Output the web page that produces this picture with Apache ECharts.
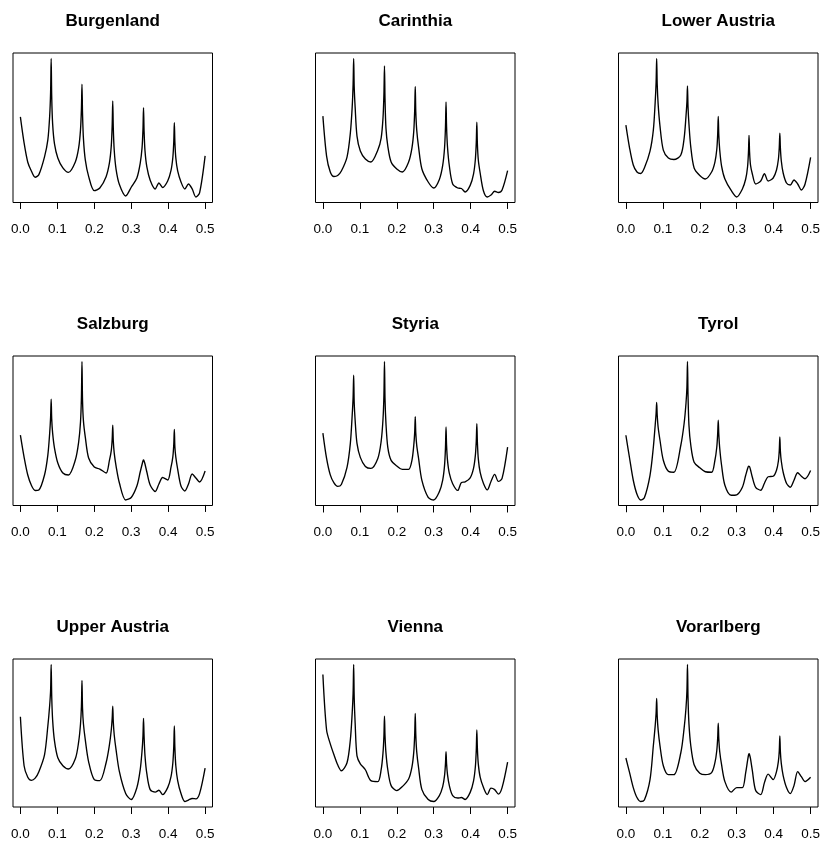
<!DOCTYPE html>
<html>
<head>
<meta charset="utf-8">
<script src="https://cdn.jsdelivr.net/npm/echarts@6/dist/echarts.min.js"></script>
<style>html,body{margin:0;padding:0;background:#fff;}#c{width:824px;height:841px;}</style>
</head>
<body>
<div id="c"></div>
<script>
// Shared frequency grid (cycles per month)
const freq = [0, 0.01, 0.02, 0.03, 0.04, 0.05,
  0.0653, 0.0743, 0.0793, 0.0818, 0.0833, 0.0848, 0.0873, 0.0923, 0.1013,
  0.115, 0.13,
  0.1487, 0.1577, 0.1627, 0.1652, 0.1667, 0.1682, 0.1707, 0.1757, 0.1847,
  0.2, 0.215,
  0.232, 0.241, 0.246, 0.2485, 0.25, 0.2515, 0.254, 0.259, 0.268,
  0.285, 0.3,
  0.3153, 0.3243, 0.3293, 0.3318, 0.3333, 0.3348, 0.3373, 0.3423, 0.3513,
  0.365, 0.375, 0.385,
  0.3987, 0.4077, 0.4127, 0.4152, 0.4167, 0.4182, 0.4207, 0.4257, 0.4347,
  0.445, 0.455, 0.465, 0.475, 0.485, 0.5];

const regions = ["Burgenland", "Carinthia", "Lower Austria", "Salzburg", "Styria", "Tyrol", "Upper Austria", "Vienna", "Vorarlberg"];

const tickValues = [0, 0.1, 0.2, 0.3, 0.4, 0.5];

// Spectrum values (arbitrary units)
const burgenland = [85, 59, 39.7, 30.7, 24.7, 27.3,
  45, 62, 86, 110, 143.3, 105, 78, 58, 44,
  34, 29.5,
  40, 54, 72, 93, 117.7, 88.6, 63, 42, 25.6,
  11.3, 14,
  25.3, 39, 56, 77, 101, 74, 51.6, 32.6, 17.4,
  6, 14.7,
  24, 38.6, 54, 72.4, 94.3, 71, 51, 35, 21.8,
  13, 19, 14.5,
  21, 31.5, 44.7, 60.5, 79.3, 60, 44, 31, 20,
  13, 18, 13, 5, 9, 46];

const carinthia = [86, 46, 30, 25.5, 26.5, 31,
  45, 69, 95, 118, 143.7, 115, 95, 66, 51,
  43, 40,
  52, 64, 84, 108, 136.3, 103, 74, 56, 40,
  33, 30,
  40, 54, 71, 92, 115.7, 90, 72, 55, 33,
  20, 14,
  22.6, 36.6, 54, 75, 100.3, 75, 55, 36, 18,
  14, 13.5, 10,
  16.6, 28, 42.6, 60, 80, 58, 42, 29, 11,
  5, 7, 10.7, 9.5, 12, 31.3];

const lowerAustria = [77, 54, 37, 30, 28.5, 34,
  51, 72, 100, 120, 143.7, 118, 98, 76, 52,
  44, 42.5,
  47, 64, 86, 100, 116.3, 95, 78, 55, 34,
  26.5, 23,
  30, 40, 52.5, 68, 85.7, 67, 52, 36, 23,
  11.5, 5,
  13, 23, 35, 50, 66.7, 50, 37, 28, 18,
  21, 28.3, 21,
  24, 32, 42.5, 55, 69, 54, 41, 29, 19,
  17, 22, 18, 12, 18, 44.7];

const salzburg = [70, 48, 30, 19.5, 14.5, 15,
  30, 50, 72, 88, 106, 86, 72, 57, 42,
  32, 30,
  45, 63, 83, 108, 143.7, 105, 84, 68, 47,
  38, 36,
  32, 44.7, 54.5, 66, 80, 64, 52, 39, 22,
  5, 7.5,
  19, 33, 40.5, 44, 45, 44, 41, 33, 20,
  13.5, 21, 27.5,
  25, 37.8, 48.4, 61, 75.7, 58, 48, 36, 19,
  14, 21, 31, 27, 23, 34];

const styria = [72.3, 47, 30.5, 22.5, 19, 21,
  38, 62, 90, 108, 130, 102, 85, 62, 48,
  39, 37,
  47, 64, 86, 110, 143.7, 106, 82, 58, 45,
  39.5, 36,
  36, 45, 60, 73, 88.7, 72, 60, 47, 25,
  8, 5.5,
  13.8, 25.4, 40, 57.6, 78.3, 60, 45, 32, 21.7,
  15, 23, 23.5,
  27.5, 37, 50, 64.6, 81.7, 63, 46.5, 33, 22,
  15.5, 24, 31, 24, 27, 58.3];

const tyrol = [70, 47, 25, 11, 5.3, 7.5,
  30, 58, 80, 92, 102.7, 90, 78, 65, 45,
  34, 33,
  60, 82, 102, 118, 143.7, 110, 80, 60, 43,
  37.5, 33.5,
  33, 45, 58, 72, 85, 71, 57, 40, 20,
  10, 10.5,
  18, 30, 36.5, 39, 39.3, 38.5, 35.5, 28, 18,
  15, 22, 28.5,
  29, 35, 44, 55, 68.3, 54, 44, 33, 22,
  18, 25, 32.5, 29, 26.5, 34.7];

const upperAustria = [91.3, 42, 30.5, 27.3, 29.5, 36,
  53, 82, 103, 118, 144, 112, 88, 67, 50,
  42, 38.7,
  49, 66, 84, 102, 128, 100, 84, 68, 46,
  28, 27,
  45, 63, 78, 90, 102, 86, 73, 58, 36,
  14, 8,
  20, 38, 57, 72, 89.7, 72, 52, 34, 18,
  15.5, 17.3, 13,
  20, 31, 45, 62, 82, 60, 42, 27, 14,
  6, 7.5, 9, 8.7, 14, 39.7];

const vienna = [134, 78, 64, 53, 43, 37,
  45, 68, 95, 115, 144, 110, 85, 52, 44,
  38, 27,
  26, 38, 55, 72, 92, 72, 55, 38, 22,
  17, 21,
  28.7, 40.7, 55.7, 73.7, 94.7, 73, 56, 40, 18,
  8, 6,
  12, 21, 32, 44, 56.3, 44, 33, 22, 12,
  9.5, 10, 8,
  15.2, 26.6, 41, 58, 78, 59.5, 43.7, 30.5, 20,
  13, 19.5, 18, 13.5, 20, 45.7];

const vorarlberg = [49.7, 35, 20, 10, 6, 7.5,
  28, 62, 82, 95, 109.7, 92, 78, 62, 42,
  33, 33,
  55, 80, 100, 117, 143.7, 110, 84, 62, 43,
  34.5, 33,
  35, 45, 57, 70, 84.7, 69, 56, 43, 26,
  15.5, 20,
  20, 35, 47, 52.5, 54, 53, 49, 37, 17,
  13, 25, 33.5,
  28, 36, 46, 57, 72, 56, 44, 32, 20,
  14, 22, 36, 31, 26, 30.3];

const seriesValues = [burgenland, carinthia, lowerAustria, salzburg, styria, tyrol, upperAustria, vienna, vorarlberg];

// Layout (pixels)
const colLeft = [13, 315.5, 618.5];
const rowTop = [53, 356, 659];
const boxW = 199.5, boxH = 149.5;
const FONT = "'Liberation Sans', Arial, Helvetica, sans-serif";

const chart = echarts.init(document.getElementById('c'), null, {renderer: 'canvas'});

const grids = [], xAxes = [], yAxes = [], series = [], titles = [];
regions.forEach((name, i) => {
  const r = Math.floor(i / 3), c = i % 3;
  const vals = seriesValues[i];
  const vmin = Math.min(...vals), vmax = Math.max(...vals);
  const pad = (vmax - vmin) * 0.04;
  grids.push({left: colLeft[c], top: rowTop[r], width: boxW, height: boxH,
    show: true, borderColor: '#000', borderWidth: 1, backgroundColor: 'transparent', containLabel: false});
  xAxes.push({type: 'value', gridIndex: i, min: -0.02, max: 0.52,
    axisLine: {show: false},
    axisTick: {show: true, inside: false, length: 7, customValues: tickValues, lineStyle: {color: '#000', width: 1}},
    axisLabel: {show: true, customValues: tickValues, margin: 20, color: '#000', fontSize: 13.5, fontFamily: FONT,
      formatter: v => v.toFixed(1)},
    splitLine: {show: false}});
  yAxes.push({type: 'value', gridIndex: i, min: vmin - pad, max: vmax + pad, show: false,
    splitLine: {show: false}});
  series.push({type: 'line', xAxisIndex: i, yAxisIndex: i, showSymbol: false, symbol: 'none',
    data: freq.map((f, k) => [f, vals[k]]), smooth: 0.3, silent: true, animation: false,
    lineStyle: {color: '#000', width: 1.35}});
  titles.push({text: name, left: colLeft[c] + boxW / 2, top: rowTop[r] - 40, textAlign: 'center', padding: 0,
    textStyle: {fontFamily: FONT, fontWeight: 'bold', fontSize: 17, color: '#000'}});
});

chart.setOption({
  animation: false,
  backgroundColor: '#fff',
  title: titles,
  grid: grids,
  xAxis: xAxes,
  yAxis: yAxes,
  series: series
});
</script>
</body>
</html>
